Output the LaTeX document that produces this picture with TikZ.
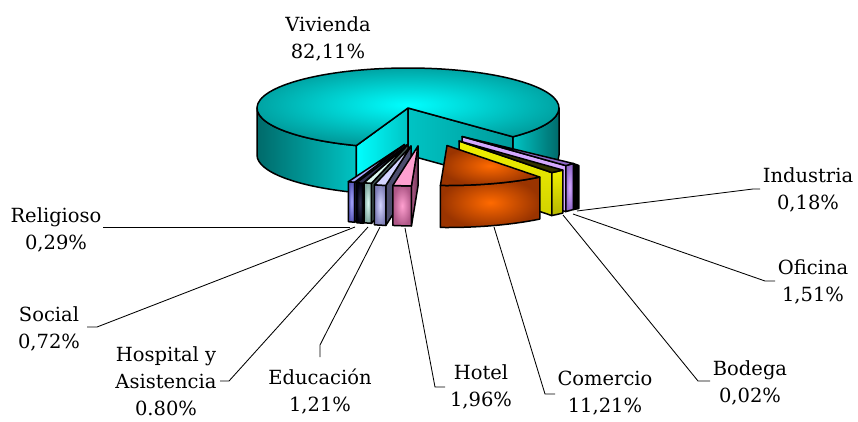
\documentclass[tikz,border=0pt]{standalone}
\usepackage{fontspec}
\setmainfont{DejaVu Serif}
\usetikzlibrary{calc}
\definecolor{cyB}{HTML}{00FFFF}
\definecolor{cyM}{HTML}{00C4C4}
\definecolor{cyD}{HTML}{006A6A}
\definecolor{cyO}{HTML}{009A9A}
\definecolor{orB}{HTML}{FF6A00}
\definecolor{orD}{HTML}{9A3400}
\definecolor{yeB}{HTML}{F0F000}
\definecolor{yeD}{HTML}{7A7A00}
\definecolor{puB}{HTML}{D4A8FF}
\definecolor{puD}{HTML}{9068C8}
\definecolor{piB}{HTML}{FFA0D0}
\definecolor{piD}{HTML}{B05888}
\definecolor{laB}{HTML}{D4D4FF}
\definecolor{laD}{HTML}{8080B8}
\definecolor{hoB}{HTML}{DCFAF2}
\definecolor{hoD}{HTML}{80A8A0}
\definecolor{reB}{HTML}{A8A8FF}
\definecolor{reD}{HTML}{5858B8}
\definecolor{soB}{HTML}{303050}
\definecolor{soD}{HTML}{000010}
\newcommand{\sliceTop}[4]{%
  \path[#4] (#1) -- ($(#1)+(#2:151 and 40)$) arc[start angle=#2,end angle=#3,x radius=151,y radius=40] -- cycle;}
\newcommand{\sliceOuter}[5]{%
  \path[#5] ($(#1)+(#2:151 and 40)$) arc[start angle=#2,end angle=#3,x radius=151,y radius=40] -- ++(0,#4) arc[start angle=#3,end angle=#2,x radius=151,y radius=40] -- cycle;}
\newcommand{\sliceSide}[4]{%
  \path[#4] (#1) -- ($(#1)+(#2:151 and 40)$) -- ++(0,#3) -- ($(#1)+(0,#3)$) -- cycle;}
\tikzset{
  face/.style={draw=black, line width=1.5pt, line join=round},
  lead/.style={draw=black, line width=0.85pt},
  lbl/.style={align=center, font=\fontsize{19.5}{27}\selectfont, inner sep=0pt},
}
\begin{document}
\begin{tikzpicture}[x=1pt,y=-1pt]
\useasboundingbox (0,0) rectangle (858,421);
\fill[white] (0,0) rectangle (858,421);

% labels
\node[lbl] (lViv) at (328,39) {Vivienda\\82,11\%};
\node[lbl] (lRel) at (56,229.5) {Religioso\\0,29\%};
\node[lbl] (lSoc) at (49,329) {Social\\0,72\%};
\node[lbl] (lHos) at (166,381) {Hospital y\\Asistencia\\0.80\%};
\node[lbl] (lEdu) at (320,391.5) {Educación\\1,21\%};
\node[lbl] (lHot) at (481,386.5) {Hotel\\1,96\%};
\node[lbl] (lCom) at (605,393.5) {Comercio\\11,21\%};
\node[lbl] (lBod) at (750,382.5) {Bodega\\0,02\%};
\node[lbl] (lOfi) at (813,281.5) {Oficina\\1,51\%};
\node[lbl] (lInd) at (808,190) {Industria\\0,18\%};

% leader lines
\coordinate (pRel) at (350,227); \coordinate (eRel) at (103,227);
\coordinate (pSoc) at (355,227); \coordinate (kSoc) at (97,327); \coordinate (eSoc) at (87,327);
\coordinate (pHos) at (368,227); \coordinate (kHos) at (229,381); \coordinate (eHos) at (220,381);
\coordinate (pEdu) at (380,227); \coordinate (kEdu) at (320,345); \coordinate (eEdu) at (320,357);
\coordinate (pHot) at (405,228); \coordinate (kHot) at (435,387); \coordinate (eHot) at (445,387);
\coordinate (pCom) at (494,227); \coordinate (kCom) at (545,394); \coordinate (eCom) at (555,394);
\coordinate (pBod) at (563,215); \coordinate (kBod) at (698,381); \coordinate (eBod) at (710,381);
\coordinate (pOfi) at (573,214); \coordinate (kOfi) at (765,281); \coordinate (eOfi) at (775,281);
\coordinate (pInd) at (577,211); \coordinate (kInd) at (753,189); \coordinate (eInd) at (760,189);
\draw[lead] (pRel) -- (eRel);
\draw[lead] (pSoc) -- (kSoc) -- (eSoc);
\draw[lead] (pHos) -- (kHos) -- (eHos);
\draw[lead] (pEdu) -- (kEdu) -- (eEdu);
\draw[lead] (pHot) -- (kHot) -- (eHot);
\draw[lead] (pCom) -- (kCom) -- (eCom);
\draw[lead] (pBod) -- (kBod) -- (eBod);
\draw[lead] (pOfi) -- (kOfi) -- (eOfi);
\draw[lead] (pInd) -- (kInd) -- (eInd);

% Vivienda
\coordinate (C) at (408,108);
\sliceOuter{C}{110}{180}{47}{face, left color=cyD, middle color=cyB, right color=cyM}
\sliceOuter{C}{0}{46}{47}{face, left color=cyM, middle color=cyB, right color=cyD}
\sliceSide{C}{110}{47}{face, left color=cyB, right color=cyM}
\sliceSide{C}{46}{47}{face, left color=cyM, middle color=cyB, right color=cyO}
\sliceTop{C}{46}{-250}{face, inner color=cyB, outer color=cyO}

% small slices (left group)
\coordinate (Re) at (404.5,144.5);
\coordinate (So) at (407,145);
\coordinate (Ho) at (408,144.5);
\coordinate (Ed) at (411,146);
\coordinate (Ht) at (418,146);
\sliceSide{Re}{109.3}{40}{face, fill=reD!50!black}
\sliceOuter{Re}{109.3}{111.8}{40}{face, inner color=reB, outer color=reD}
\sliceTop{Re}{109.3}{111.8}{face, fill=reB}
\sliceSide{So}{106.9}{40}{face, fill=soD}
\sliceOuter{So}{106.9}{109.5}{40}{face, inner color=soB, outer color=soD}
\sliceTop{So}{106.9}{109.5}{face, fill=soB}
\sliceSide{Ho}{104}{40}{face, fill=hoD!50!black}
\sliceOuter{Ho}{104}{106.9}{40}{face, inner color=hoB, outer color=hoD}
\sliceTop{Ho}{104}{106.9}{face, fill=hoB}
\sliceSide{Ed}{99.6}{40}{face, fill=laD!60!black}
\sliceOuter{Ed}{99.6}{104}{40}{face, inner color=laB, outer color=laD}
\sliceTop{Ed}{99.6}{104}{face, fill=laB}
\sliceSide{Ht}{92.5}{40}{face, left color=piD, right color=piD!60!black}
\sliceOuter{Ht}{92.5}{99.6}{40}{face, inner color=piB, outer color=piD}
\sliceTop{Ht}{92.5}{99.6}{face, fill=piB}

% right group
\coordinate (Pu) at (462,136.5);
\coordinate (Ye) at (459,141);
\coordinate (Or) at (447,145.5);
\sliceSide{Pu}{46.6}{46}{face, fill=puB}
\path[face, fill=black] ($(Pu)+(42.5:151 and 40)$) -- ++(5.5,2) -- ++(0,43) -- ++(-5.5,1) -- cycle;
\sliceOuter{Pu}{42.5}{46.6}{46}{face, inner color=puB, outer color=puD}
\sliceTop{Pu}{42.5}{46.6}{face, fill=puD}
\sliceSide{Ye}{52.1}{43}{face, top color=yeB, bottom color=yeB!75!yeD}
\sliceOuter{Ye}{46.6}{52.1}{43}{face, top color=yeB, bottom color=yeB!50!yeD}
\sliceTop{Ye}{46.6}{52.1}{face, fill=yeD!40!black}
\sliceOuter{Or}{52.1}{92.5}{42}{face, inner color=orB, outer color=orD}
\sliceTop{Or}{52.1}{92.5}{face, inner color=orB, outer color=orD}
\end{tikzpicture}
\end{document}
